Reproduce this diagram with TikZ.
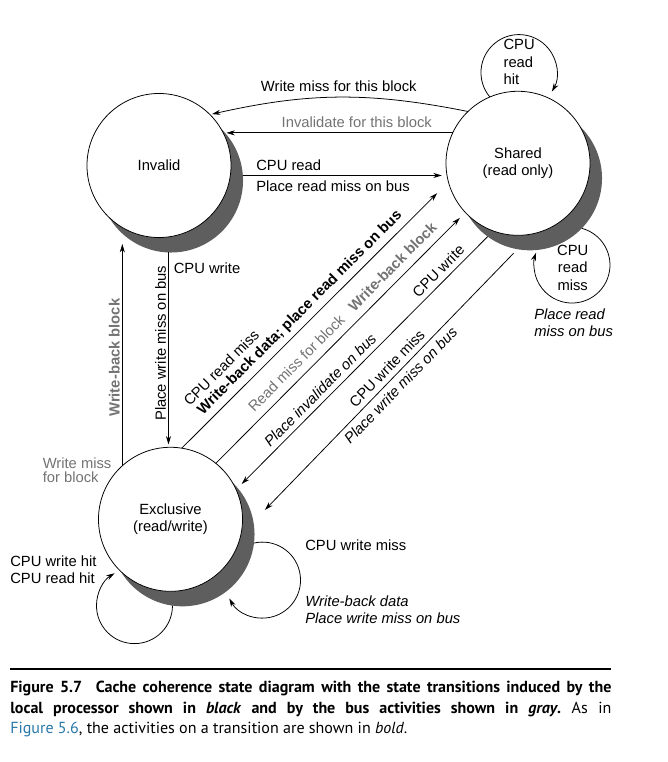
\documentclass[tikz,border=0pt]{standalone}
\usepackage{fontspec}
\setmainfont{Liberation Sans}
\newfontfamily\capfont{PT Sans}
\usepackage{xcolor}
\usetikzlibrary{calc}
\usetikzlibrary{positioning}
\usetikzlibrary{arrows.meta}
\definecolor{busgray}{gray}{0.45}
\definecolor{shadegray}{gray}{0.37}
\definecolor{figblue}{RGB}{40,120,170}
\tikzset{
  state/.style={circle,draw,fill=white,minimum size=3.6cm,inner sep=0pt,outer sep=0pt,align=center,line width=.55pt},
  shade/.style={circle,fill=shadegray,minimum size=3.6cm,inner sep=0pt,outer sep=0pt},
  trans/.style={-{Stealth[length=6pt,width=3.6pt]},line width=.55pt},
  bus/.style={text=busgray},
  act/.style={font=\bfseries}
}
\begin{document}
\fontsize{10.5}{12.5}\selectfont
\frenchspacing
\begin{tikzpicture}[x=0.025cm,y=0.025cm]
  \useasboundingbox (0,0) rectangle (667,-762);
  \node[shade] (invs) at (171,-180.5) {};
  \node[shade] (shrs) at (530,-178.3) {};
  \node[shade] (excs) at (182.5,-534.3) {};
  \node[state] (inv) at (159,-165.5) {Invalid};
  \node[state] (shr) at (518,-163.3) {Shared\\(read only)};
  \node[state] (exc) at (170.5,-519.3) {Exclusive\\(read/write)};

  \draw[trans,shorten >=1.5pt] (shr.134) to[bend right=12] node[above] {Write miss for this block} (inv.45);
  \draw[trans,shorten >=1.5pt] (shr.155) -- (shr.155 -| inv.25) node[bus,pos=.42,above] {Invalidate for this block};
  \draw[trans,shorten >=3pt] (invs.4) -- (invs.4 -| shr.west)
      node[pos=.04,above right] {CPU read} node[pos=.04,below right] {Place read miss on bus};
  \draw[trans,shorten >=2pt] (invs.268) -- (invs.268 |- exc.north)
      node[pos=.08,right] {CPU write}
      node[pos=.466,rotate=90,above,inner sep=1.5pt] {Place write miss on bus};
  \draw[trans,shorten >=4.6pt] (exc.132) -- (exc.132 |- inv.south)
      node[bus,act,pos=.474,rotate=90,above,inner sep=1.5pt] {Write-back block}
      node[bus,pos=0,anchor=east,xshift=-4pt,yshift=-3pt,align=left,font=\fontsize{10.5}{10}\selectfont] {Write miss\\for block};

  \draw[trans,shorten >=11.3pt] (exc.81) -- (shr.195)
      node[act,pos=.476,sloped,above] {Write-back data; place read miss on bus}
      node[pos=.225,sloped,above=13pt] {CPU read miss};
  \draw[trans,shorten >=5.5pt] (exc.51) -- (shr.223)
      node[bus,pos=.361,sloped,above=2pt] {Read miss for block}
      node[bus,act,pos=.746,sloped,above=2pt] {Write-back block};
  \draw[trans,shorten >=4pt] (shrs.234) -- (excs.40)
      node[pos=.167,sloped,above] {CPU write}
      node[pos=.64,sloped,above,font=\itshape] {Place invalidate on bus};
  \draw[trans,shorten <=4pt,shorten >=11.7pt] (shrs.260) -- (excs.10)
      node[pos=.465,sloped,above] {CPU write miss}
      node[pos=.472,sloped,below,font=\itshape] {Place write miss on bus};

  \draw[trans] (shr.113) arc[start angle=220,end angle=-30,radius=38];
  \node[anchor=west,align=left,inner sep=0pt] (rdhit) at (503.3,-62) {CPU\\read\\hit};
  \draw[trans] (shrs.-44) arc[start angle=75,end angle=-199,radius=38];
  \node[align=center,inner sep=0pt] (rdmiss) at (572.7,-267.6) {CPU\\read\\miss};
  \node[anchor=west,align=left,inner sep=0pt,font=\itshape] (rmbus) at (534,-322.6) {Place read\\miss on bus};

  \draw[trans] (excs.262) arc[start angle=0,end angle=-238.5,radius=38];
  \node[anchor=west,align=left,inner sep=0pt] (wrhit) at (10,-569.8) {CPU write hit\\CPU read hit};
  \draw[trans] (excs.-7) arc[start angle=103,end angle=-151,radius=38];
  \node[anchor=west,inner sep=0pt] (wrmiss) at (305,-545.3) {CPU write miss};
  \node[anchor=west,align=left,inner sep=0pt,font=\itshape] (wbdata) at (305,-609.6) {Write-back data\\Place write miss on bus};

  \draw[line width=.8pt] (10,-669) -- (611,-669);
  \node[anchor=north west,inner sep=0pt,text width=15.025cm,align=justify,
        font=\capfont\fontsize{11.4}{14.6}\selectfont] (cap) at (10,-681)
    {{\bfseries Figure 5.7\hspace{0.45em} Cache coherence state diagram with the state transitions induced by the\linebreak
     local processor shown in \textit{black} and by the bus activities shown in \textit{gray}.} As in\linebreak
     {\color{figblue}Figure 5.6}, the activities on a transition are shown in \textit{bold}.};
\end{tikzpicture}
\end{document}
